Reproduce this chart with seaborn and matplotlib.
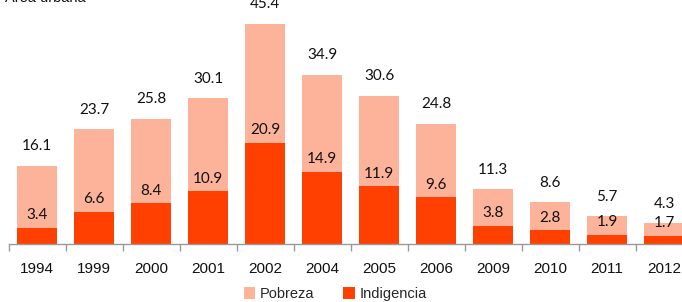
import matplotlib
matplotlib.use("Agg")
import matplotlib.pyplot as plt
import seaborn as sns
import pandas as pd
import numpy as np
from matplotlib.patches import Patch

years = ["1994", "1999", "2000", "2001", "2002", "2004", "2005", "2006", "2009", "2010", "2011", "2012"]
pobreza = [16.1, 23.7, 25.8, 30.1, 45.4, 34.9, 30.6, 24.8, 11.3, 8.6, 5.7, 4.3]
indigencia = [3.4, 6.6, 8.4, 10.9, 20.9, 14.9, 11.9, 9.6, 3.8, 2.8, 1.9, 1.7]

c_pob = "#FDB399"
c_ind = "#FF4000"

sns.set_theme(style="white")
plt.rcParams["font.family"] = ["Liberation Sans", "DejaVu Sans"]

df = pd.DataFrame({"year": years, "pobreza": pobreza, "indigencia": indigencia})

fig = plt.figure(figsize=(6.82, 3.02), dpi=100)
ax = fig.add_axes([8.5 / 682, 58 / 302, 684 / 682, 242.3 / 302])

sns.barplot(data=df, x="year", y="pobreza", color=c_pob, saturation=1, width=0.7, linewidth=0, ax=ax)
sns.barplot(data=df, x="year", y="indigencia", color=c_ind, saturation=1, width=0.7, linewidth=0, ax=ax)

ax.set_ylim(0, 50)
ax.set_xlim(-0.5, len(years) - 0.5)
ax.set_xlabel("")
ax.set_ylabel("")
ax.set_yticks([])
for s in ["top", "right", "left"]:
    ax.spines[s].set_visible(False)
ax.spines["bottom"].set_color("#999999")
ax.spines["bottom"].set_linewidth(1.0)

ax.set_xticks(np.arange(-0.5, len(years) + 0.5, 1), minor=True)
ax.tick_params(axis="x", which="minor", bottom=True, length=5, color="#999999", width=1)
ax.tick_params(axis="x", which="major", bottom=False, length=0, pad=13, labelsize=11, labelcolor="#111111")

vfont = ["Lato", "DejaVu Sans"]
for i, (p, d) in enumerate(zip(pobreza, indigencia)):
    ax.annotate(f"{p:.1f}", (i, p), xytext=(0, 9), textcoords="offset points",
                ha="center", va="bottom", fontsize=11, family=vfont, color="#111111")
    ax.annotate(f"{d:.1f}", (i, d), xytext=(0, 4), textcoords="offset points",
                ha="center", va="bottom", fontsize=11, family=vfont, color="#111111")

fig.text(5 / 682, 1 - 2 / 302, "Área urbana", ha="left", va="baseline", fontsize=10.5, color="#111111")

handles = [Patch(facecolor=c_pob, edgecolor="none", label="Pobreza"),
           Patch(facecolor=c_ind, edgecolor="none", label="Indigencia")]
fig.legend(handles=handles, loc="center", bbox_to_anchor=(335 / 682, 1 - 294 / 302), ncol=2,
           frameon=False, handlelength=0.8, handleheight=0.8, handletextpad=0.3, columnspacing=2.0,
           fontsize=10.5)

fig.savefig("out.png", dpi=100)
